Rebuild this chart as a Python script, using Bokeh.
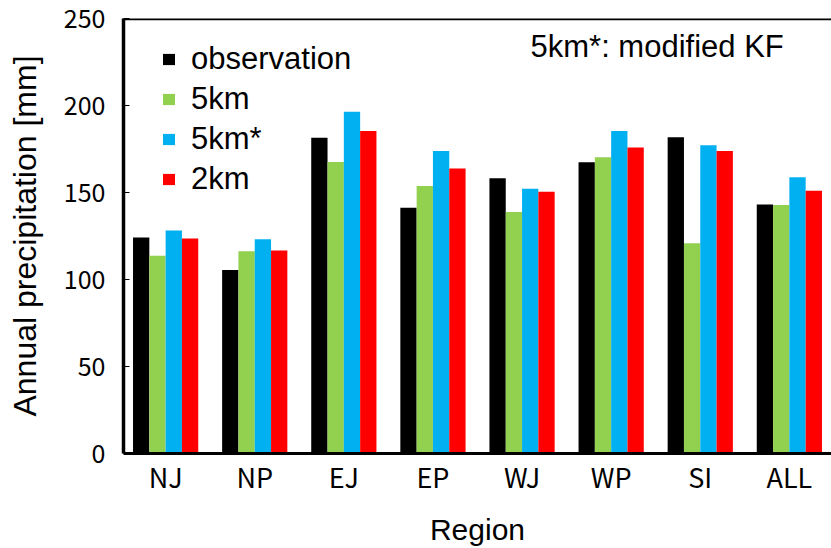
from bokeh.plotting import figure
from bokeh.models import (FactorRange, Range1d, FixedTicker, Legend, LegendItem,
                          Label, Span, ColumnDataSource)
from bokeh.transform import dodge
from bokeh.embed import file_html
from bokeh.resources import INLINE

regions = ["NJ", "NP", "EJ", "EP", "WJ", "WP", "SI", "ALL"]
series_names = ["observation", "5km", "5km*", "2km"]
observation = [124.2, 105.5, 181.5, 141.2, 158.2, 167.4, 181.7, 143.1]
km5 = [113.7, 116.2, 167.6, 153.7, 138.8, 170.3, 120.8, 142.8]
km5_mod = [128.1, 123.1, 196.4, 173.9, 152.1, 185.3, 177.1, 158.8]
km2 = [123.5, 116.6, 185.3, 163.8, 150.4, 175.8, 173.9, 151.0]
colors = ["#000000", "#92D050", "#00B0F0", "#FF0000"]
yticks = [0, 50, 100, 150, 200, 250]
note = "5km*: modified KF"

source = ColumnDataSource(data=dict(region=regions, observation=observation,
                                    km5=km5, km5_mod=km5_mod, km2=km2))

p = figure(width=831, height=548, output_backend="svg", toolbar_location=None,
           x_range=FactorRange(factors=regions, range_padding=-0.0068),
           y_range=Range1d(0, 250),
           min_border_left=123, min_border_right=0, min_border_top=18,
           min_border_bottom=94)

bw = 0.183
offsets = [-1.5 * bw, -0.5 * bw, 0.5 * bw, 1.5 * bw]
cols = ["observation", "km5", "km5_mod", "km2"]
items = []
for col, name, off, c in zip(cols, series_names, offsets, colors):
    r = p.vbar(x=dodge("region", off, range=p.x_range), top=col, width=bw,
               source=source, fill_color=c, line_color=None)
    items.append(LegendItem(label=name, renderers=[r]))

p.xgrid.grid_line_color = None
p.ygrid.grid_line_color = None
p.outline_line_color = None
p.background_fill_color = "white"
p.border_fill_color = "white"

tick_font = "Noto Sans CJK JP"

# y axis
p.yaxis.ticker = FixedTicker(ticks=yticks)
p.yaxis.axis_line_width = 3.5
p.yaxis.axis_line_color = "black"
p.yaxis.major_tick_in = 6
p.yaxis.major_tick_out = 0
p.yaxis.minor_tick_line_color = None
p.yaxis.major_tick_line_color = "black"
p.yaxis.major_label_text_font = tick_font
p.yaxis.major_label_text_font_size = "25px"
p.yaxis.major_label_text_color = "black"
p.yaxis.major_label_standoff = 18
p.yaxis.axis_label = "Annual precipitation [mm]"
p.yaxis.axis_label_text_font = "Liberation Sans"
p.yaxis.axis_label_text_font_size = "32px"
p.yaxis.axis_label_text_font_style = "normal"
p.yaxis.axis_label_text_color = "black"
p.yaxis.axis_label_standoff = 18

# x axis
p.xaxis.axis_line_width = 3
p.xaxis.axis_line_color = "black"
p.xaxis.major_tick_in = 0
p.xaxis.major_tick_out = 0
p.xaxis.major_tick_line_color = None
p.xaxis.major_label_text_font = tick_font
p.xaxis.major_label_text_font_size = "27px"
p.xaxis.major_label_text_color = "black"
p.xaxis.major_label_standoff = 3
p.xaxis.axis_label = "Region"
p.xaxis.axis_label_text_font = "Liberation Sans"
p.xaxis.axis_label_text_font_size = "30px"
p.xaxis.axis_label_text_font_style = "normal"
p.xaxis.axis_label_text_color = "black"
p.xaxis.axis_label_standoff = 14

# top frame line
p.add_layout(Span(location=250, dimension="width", line_color="black", line_width=3.5))

legend = Legend(items=items, location=(38, 256), orientation="vertical",
                label_text_font="Liberation Sans", label_text_font_size="31px",
                label_text_color="black", glyph_width=15, glyph_height=14,
                label_height=36, label_standoff=15, spacing=4, padding=0, margin=0,
                border_line_color=None, background_fill_alpha=0)
p.add_layout(legend, "center")

p.add_layout(Label(x=407, y=406.6, x_units="screen", y_units="screen", text=note,
                   text_font="Liberation Sans", text_font_size="31px",
                   text_color="black", text_baseline="alphabetic"))

open("out.html", "w").write(file_html(p, INLINE))
